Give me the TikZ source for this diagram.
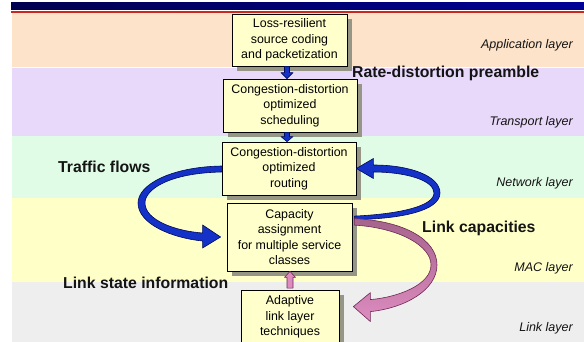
\documentclass[tikz,border=0pt]{standalone}
\usepackage{fontspec}
\setmainfont{Liberation Sans}
\usetikzlibrary{shadows,calc}

\definecolor{navyL}{RGB}{0,0,80}
\definecolor{navyR}{RGB}{0,0,150}
\definecolor{redline}{RGB}{200,40,30}
\definecolor{appband}{RGB}{253,227,202}
\definecolor{trband}{RGB}{232,216,250}
\definecolor{netband}{RGB}{224,252,230}
\definecolor{macband}{RGB}{255,255,200}
\definecolor{linkband}{RGB}{238,238,238}
\definecolor{boxfill}{RGB}{255,255,204}
\definecolor{shadowc}{RGB}{150,150,135}
\definecolor{flowblue}{RGB}{20,50,200}
\definecolor{flowedge}{RGB}{0,10,90}
\definecolor{flowpink}{RGB}{222,140,192}
\definecolor{pinkdark}{RGB}{165,100,140}
\definecolor{pinkedge}{RGB}{110,40,85}
\definecolor{labeltext}{RGB}{20,20,20}

\begin{document}
\begin{tikzpicture}[x=1pt,y=-1pt,
  layerbox/.style={draw=black, line width=0.8pt, fill=boxfill, inner sep=0pt,
    align=center, font=\fontsize{12.4}{15.5}\selectfont,
    drop shadow={shadow xshift=5pt, shadow yshift=-5pt, opacity=1, fill=shadowc}},
  layername/.style={anchor=base east, inner sep=0pt, text=labeltext,
    font=\fontsize{12.5}{15}\selectfont\itshape},
  flowname/.style={anchor=base west, inner sep=0pt, text=labeltext,
    font=\fontsize{15.8}{18}\selectfont\bfseries},
  bluearrow/.style={fill=flowblue, draw=flowedge, line width=0.6pt, line join=round},
  pinkarrow/.style={top color=pinkdark, bottom color=flowpink, draw=pinkedge,
    line width=0.6pt, line join=round},
  smallpink/.style={fill=flowpink, draw=pinkedge, line width=0.6pt, line join=round}]

\useasboundingbox (0,0) rectangle (584,342);

% title bar and layer bands
\shade[left color=navyL, right color=navyR] (11,3) rectangle (584,9.5);
\fill[redline] (11,11) rectangle (584,13);
\fill[appband]  (12,13)    rectangle (584,67);
\fill[trband]   (12,67.8)  rectangle (584,136.5);
\fill[netband]  (12,136.5) rectangle (584,198);
\fill[macband]  (12,198)   rectangle (584,282);
\fill[linkband] (12,282)   rectangle (584,342);

% layer names
\node[layername] (lapp) at (573,48.5)  {Application layer};
\node[layername] (ltr)  at (573,126)   {Transport layer};
\node[layername] (lnet) at (573,186.7) {Network layer};
\node[layername] (lmac) at (573,271.7) {MAC layer};
\node[layername] (llnk) at (573,331.7) {Link layer};

% processing blocks
\node[layerbox, minimum width=115pt, minimum height=52pt] (b1) at (289.5,40)
  {Loss-resilient\\source coding\\and packetization};
\node[layerbox, minimum width=134pt, minimum height=53pt] (b2) at (290,105.5)
  {Congestion-distortion\\optimized\\scheduling};
\node[layerbox, minimum width=134pt, minimum height=53pt] (b3) at (289,168.5)
  {Congestion-distortion\\optimized\\routing};
\node[layerbox, minimum width=125pt, minimum height=68pt] (b4) at (289.5,237)
  {Capacity\\assignment\\for multiple service\\classes};
\node[layerbox, minimum width=98pt, minimum height=54pt] (b5) at (290,317)
  {Adaptive\\link layer\\techniques};

% short block arrows between neighbouring blocks
\coordinate (d1s) at ($(b1.south)+(-2.5,0)$);
\coordinate (d1e) at ($(b2.north)+(-3,0)$);
\path[bluearrow] ($(d1s)+(-2.5,0)$) -- ($(d1e)+(-2.5,-6)$) -- ($(d1e)+(-6,-6)$)
  -- (d1e) -- ($(d1e)+(6,-6)$) -- ($(d1e)+(2.5,-6)$) -- ($(d1s)+(2.5,0)$) -- cycle;
\coordinate (d2s) at ($(b2.south)+(-3,0)$);
\coordinate (d2e) at ($(b3.north)+(-2,0)$);
\path[bluearrow] ($(d2s)+(-2.5,0)$) -- ($(d2e)+(-2.5,-5)$) -- ($(d2e)+(-6,-5)$)
  -- (d2e) -- ($(d2e)+(6,-5)$) -- ($(d2e)+(2.5,-5)$) -- ($(d2s)+(2.5,0)$) -- cycle;
\coordinate (u1s) at ($(b5.north)+(0,-1.5)$);
\coordinate (u1e) at ($(b4.south)+(0.5,0)$);
\path[smallpink] ($(u1s)+(-3,0)$) -- ($(u1e)+(-3,6)$) -- ($(u1e)+(-5.5,6)$)
  -- (u1e) -- ($(u1e)+(5.5,6)$) -- ($(u1e)+(3,6)$) -- ($(u1s)+(3,0)$) -- cycle;

% traffic flows: routing -> capacity assignment
\coordinate (tfE) at ($(b4.west)+(-6,0)$);
\path[bluearrow] ($(b3.west)+(0,-2.5)$)
  .. controls (170,167) and (138,185) .. (138,203)
  .. controls (138,224) and (172,238) .. ($(tfE)+(-18,4)$)
  -- ($(tfE)+(-18,11)$) -- (tfE) -- ($(tfE)+(-18,-12)$) -- ($(tfE)+(-18,-4)$)
  .. controls (175,231) and (145,220) .. (145,203)
  .. controls (145,189) and (170,173) .. ($(b3.west)+(0,3.5)$) -- cycle;

% link capacities back to routing
\path[bluearrow] ($(b4.north east)+(2,17)$)
  .. controls (400,219) and (440,211) .. (440,193)
  .. controls (440,176) and (410,165) .. ($(b3.east)+(17,-3.5)$)
  -- ($(b3.east)+(17,-10)$) -- (b3.east) -- ($(b3.east)+(17,10)$)
  -- ($(b3.east)+(17,3.5)$)
  .. controls (405,172) and (434,180) .. (434,193)
  .. controls (434,206) and (400,214) .. ($(b4.north east)+(2,13.5)$) -- cycle;

% link capacities down to the link layer
\coordinate (pkE) at ($(b5.north east)+(14,17)$);
\path[pinkarrow] ($(b4.north east)+(2,16)$)
  .. controls (405,221) and (437,240) .. (437,265)
  .. controls (437,290) and (405,308) .. ($(pkE)+(17,5)$)
  -- ($(pkE)+(17,15)$) -- (pkE) -- ($(pkE)+(17,-14)$) -- ($(pkE)+(17,-7)$)
  .. controls (400,297) and (431,284) .. (431,265)
  .. controls (431,246) and (400,228) .. ($(b4.north east)+(2,22.5)$) -- cycle;

% flow labels
\node[flowname] (rdp) at (352,78)    {Rate-distortion preamble};
\node[flowname] (tfl) at (58,172.3)  {Traffic flows};
\node[flowname] (lcp) at (422,232.3) {Link capacities};
\node[flowname] (lsi) at (63,288.7)  {Link state information};
\end{tikzpicture}
\end{document}
